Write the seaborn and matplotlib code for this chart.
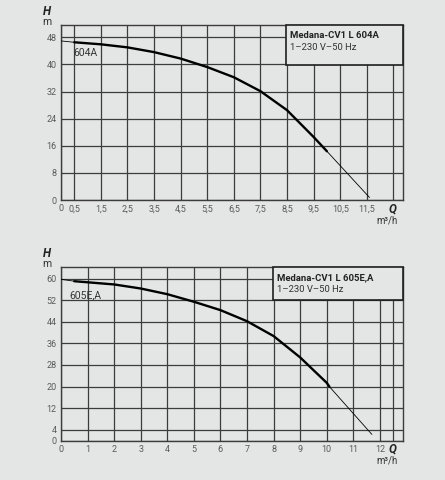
import matplotlib
matplotlib.use("Agg")
import matplotlib.pyplot as plt
import seaborn as sns
import pandas as pd
from matplotlib.patches import Rectangle

sns.set_theme(style="white")
plt.rcParams["font.family"] = ["Liberation Sans Narrow", "Roboto", "DejaVu Sans"]

BG = "#e4e5e5"
GRID = "#3c3c3c"
TICK = "#5a5a5a"

# --- pump 604A ---
a_title = "Medana-CV1 L 604A"
a_sub = "1–230 V–50 Hz"
a_label = "604A"
a_start_q = [0.0, 0.5]
a_start_h = [46.9, 46.5]
a_main_q = [0.5, 1.5, 2.5, 3.5, 4.5, 5.5, 6.5, 7.5, 8.5, 9.5, 10.0]
a_main_h = [46.5, 45.9, 45.0, 43.6, 41.7, 39.2, 36.2, 32.1, 26.5, 18.6, 14.4]
a_tail_q = [10.0, 11.6]
a_tail_h = [14.4, 0.8]
a_xticks = [0, 0.5, 1.5, 2.5, 3.5, 4.5, 5.5, 6.5, 7.5, 8.5, 9.5, 10.5, 11.5]
a_xlabels = ["0", "0,5", "1,5", "2,5", "3,5", "4,5", "5,5", "6,5", "7,5", "8,5", "9,5", "10,5", "11,5"]
a_yticks = [0, 8, 16, 24, 32, 40, 48]

# --- pump 605E,A ---
b_title = "Medana-CV1 L 605E,A"
b_sub = "1–230 V–50 Hz"
b_label = "605E,A"
b_start_q = [0.0, 0.5]
b_start_h = [59.7, 59.0]
b_main_q = [0.5, 1, 2, 3, 4, 5, 6, 7, 8, 9, 10, 10.1]
b_main_h = [59.0, 58.6, 57.8, 56.3, 54.2, 51.4, 48.3, 44.2, 38.7, 30.8, 21.4, 20.0]
b_tail_q = [10.1, 11.7]
b_tail_h = [20.0, 2.3]
b_xticks = [0, 1, 2, 3, 4, 5, 6, 7, 8, 9, 10, 11, 12]
b_xlabels = [str(v) for v in b_xticks]
b_yticks = [0, 4, 12, 20, 28, 36, 44, 52, 60]


def draw_curve(ax, q, h, lw):
    df = pd.DataFrame({"Q": q, "H": h})
    sns.lineplot(data=df, x="Q", y="H", ax=ax, color="black", lw=lw,
                 sort=False, estimator=None, zorder=4)


def pump_panel(ax, title, sub, label, label_xy, start, main, tail,
               xticks, xlabels, yticks, xlim, ylim, box_x, box_y):
    ax.set_facecolor(BG)
    draw_curve(ax, start[0], start[1], 0.6)
    draw_curve(ax, main[0], main[1], 1.7)
    draw_curve(ax, tail[0], tail[1], 0.6)

    ax.set_xlim(*xlim)
    ax.set_ylim(*ylim)
    ax.set_xticks(xticks)
    ax.set_xticklabels(xlabels)
    ax.set_xticks([12.5], minor=True)
    ax.set_yticks(yticks)
    ax.tick_params(which="both", length=0, labelsize=6.5, labelcolor=TICK, pad=3)
    ax.grid(True, which="both", color=GRID, lw=0.9)
    ax.set_xlabel("")
    ax.set_ylabel("")
    for s in ax.spines.values():
        s.set_color(GRID)
        s.set_linewidth(1.0)

    # title box in the upper right corner
    h = ax.get_position().height
    ax.add_patch(Rectangle((box_x, box_y), 1 - box_x, 1 - box_y,
                           transform=ax.transAxes, facecolor=BG,
                           edgecolor="#202020", lw=1.2, zorder=3,
                           clip_on=False))
    ax.text(box_x + 0.012, 1 - 0.035 * 0.365 / h, title, transform=ax.transAxes,
            fontsize=6.8, fontweight="bold", color="#222222", va="top", zorder=5)
    ax.text(box_x + 0.012, 1 - 0.105 * 0.365 / h, sub, transform=ax.transAxes,
            fontsize=6.8, color="#333333", va="top", zorder=5)

    ax.text(label_xy[0], label_xy[1], label, fontsize=7.5, color="#333333",
            va="center", zorder=5)

    ax.text(-0.04, 1.04, "H", transform=ax.transAxes, fontsize=8.5,
            fontweight="bold", style="italic", ha="center", va="bottom",
            color="#222222")
    ax.text(-0.04, 1.045, "m", transform=ax.transAxes, fontsize=7.5,
            ha="center", va="top", color="#333333")
    ax.text(0.97, -0.05, "Q", transform=ax.transAxes, fontsize=8.5,
            fontweight="bold", style="italic", ha="center", va="center",
            color="#222222")
    ax.text(0.955, -0.085, "m³/h", transform=ax.transAxes, fontsize=7,
            ha="center", va="top", color="#333333")


fig = plt.figure(figsize=(4.45, 4.8), dpi=100, facecolor=BG)
ax1 = fig.add_axes([0.137, 0.583, 0.768, 0.365])
ax2 = fig.add_axes([0.137, 0.082, 0.768, 0.362])

pump_panel(ax1, a_title, a_sub, a_label, (0.45, 43.3),
           (a_start_q, a_start_h), (a_main_q, a_main_h), (a_tail_q, a_tail_h),
           a_xticks, a_xlabels, a_yticks, (0, 12.85), (0, 51.6), 0.658, 0.774)
pump_panel(ax2, b_title, b_sub, b_label, (0.3, 53.8),
           (b_start_q, b_start_h), (b_main_q, b_main_h), (b_tail_q, b_tail_h),
           b_xticks, b_xlabels, b_yticks, (0, 12.86), (0, 64.3), 0.621, 0.812)

fig.savefig("out.png", dpi=100, facecolor=BG)
